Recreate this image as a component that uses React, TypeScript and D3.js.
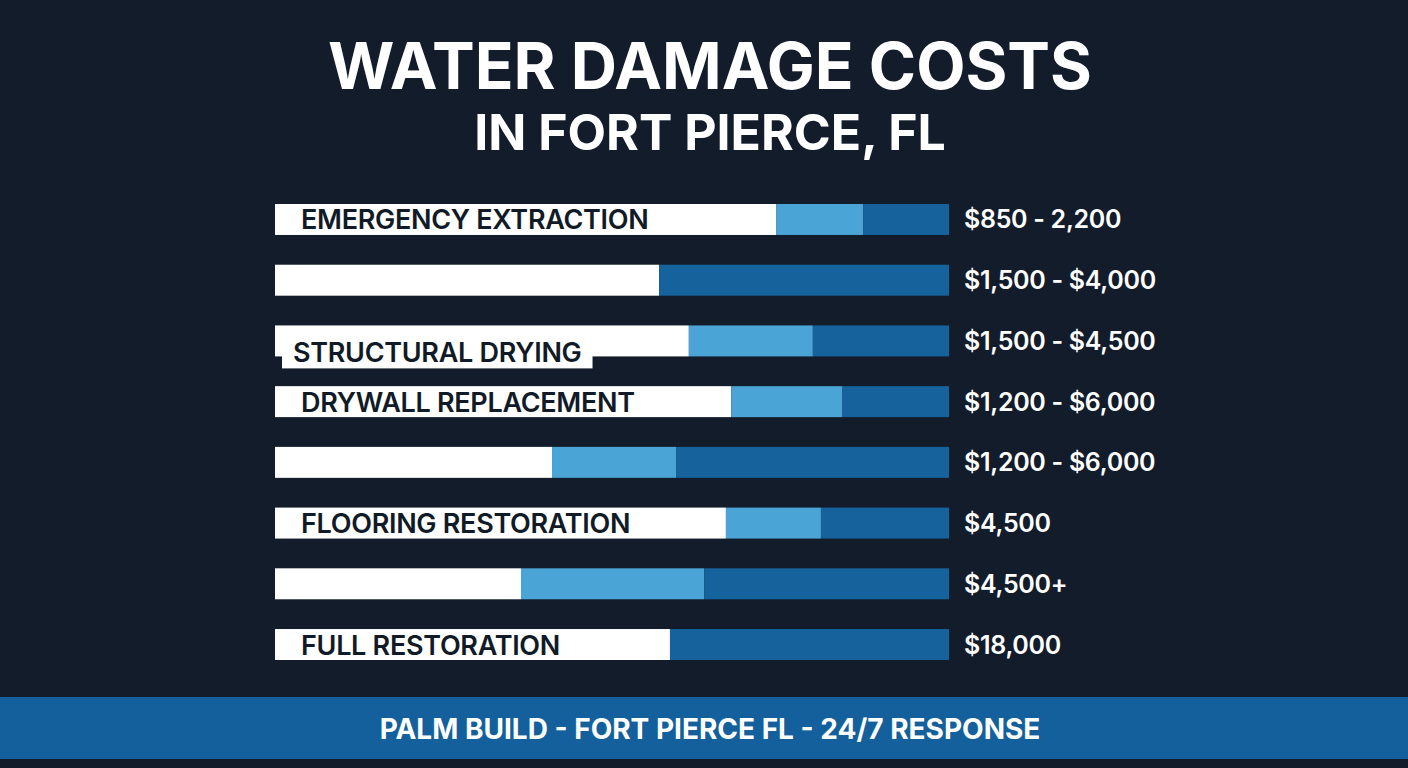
import React, { useEffect, useRef } from 'react';
import * as d3 from 'd3';

// share of each bar held by the white / light blue / dark blue segment (%)
const baseShare = [74.4, 57.0, 61.4, 67.7, 41.1, 66.9, 36.5, 58.6];
const midShare = [12.9, 0, 18.4, 16.5, 18.4, 14.1, 27.2, 0];
const topShare = [12.7, 43.0, 20.2, 15.8, 40.5, 19.0, 36.3, 41.4];

const barLabels = [
  'EMERGENCY EXTRACTION',
  '',
  'STRUCTURAL DRYING',
  'DRYWALL REPLACEMENT',
  '',
  'FLOORING RESTORATION',
  '',
  'FULL RESTORATION',
];

const priceLabels = [
  '$850 - 2,200',
  '$1,500 - $4,000',
  '$1,500 - $4,500',
  '$1,200 - $6,000',
  '$1,200 - $6,000',
  '$4,500',
  '$4,500+',
  '$18,000',
];

const titleLines = ['WATER DAMAGE COSTS', 'IN FORT PIERCE, FL'];
const footerText = 'PALM BUILD - FORT PIERCE FL - 24/7 RESPONSE';

// label that hangs below its bar on a white tab
const droppedLabel = 'STRUCTURAL DRYING';

const W = 1408;
const H = 768;
const FONT = 'Inter, "Open Sans", sans-serif';

const CostChart = () => {
  const ref = useRef<SVGSVGElement>(null);

  useEffect(() => {
    const svg = d3.select(ref.current);
    svg.selectAll('*').remove();

    svg.append('rect').attr('width', W).attr('height', H).attr('fill', '#131c2b');

    const cx = 710;

    // title
    const title = svg.append('g').attr('fill', '#ffffff').attr('text-anchor', 'middle')
      .style('font-family', FONT).style('font-weight', 700);
    title.append('text').attr('x', cx).attr('y', 89).style('font-size', '64px')
      .text(titleLines[0]);
    title.append('text').attr('x', cx).attr('y', 150).style('font-size', '50px')
      .text(titleLines[1]);

    const rows = baseShare.map((b, i) => ({ row: i, base: b, mid: midShare[i], top: topShare[i] }));

    const x = d3.scaleLinear().domain([0, 100]).range([275, 949]);
    const y = d3.scaleBand<number>()
      .domain(rows.map(d => d.row))
      .range([204, 660])
      .paddingInner(0.49)
      .paddingOuter(0);
    const bw = y.bandwidth();

    const color = d3.scaleOrdinal<string, string>()
      .domain(['base', 'mid', 'top'])
      .range(['#ffffff', '#4aa4d6', '#15629d']);

    const stack = d3.stack<any>().keys(['base', 'mid', 'top']);
    const series = stack(rows);

    const bars = svg.append('g');
    bars.selectAll('g')
      .data(series)
      .enter().append('g')
      .attr('fill', d => color(d.key))
      .selectAll('rect')
      .data(d => d.filter(s => s[1] - s[0] > 0))
      .enter().append('rect')
      .attr('x', d => x(d[0]))
      .attr('y', d => y(d.data.row) as number)
      .attr('width', d => x(d[1]) - x(d[0]))
      .attr('height', bw);

    // category labels inside the white segment
    const labels = svg.append('g').style('font-family', FONT).style('font-weight', 600)
      .style('font-size', '27px').style('letter-spacing', '-0.3px').attr('fill', '#111a27');

    rows.forEach(d => {
      const text = barLabels[d.row];
      if (!text) return;
      const y0 = y(d.row) as number;
      if (text === droppedLabel) {
        const tab = labels.append('rect').attr('fill', '#ffffff');
        const t = labels.append('text').attr('x', x(0) + 18).attr('y', y0 + bw + 6).text(text);
        const len = (t.node() as SVGTextElement).getComputedTextLength();
        tab.attr('x', x(0) + 7).attr('y', y0 + bw - 20)
          .attr('width', len + 22).attr('height', 32);
      } else {
        labels.append('text').attr('x', x(0) + 26).attr('y', y0 + bw / 2 + 10).text(text);
      }
    });

    // price ranges to the right of each bar
    svg.append('g').style('font-family', FONT).style('font-weight', 600)
      .style('font-size', '25px').style('letter-spacing', '-0.3px').attr('fill', '#ffffff')
      .selectAll('text')
      .data(rows)
      .enter().append('text')
      .attr('x', x(100) + 15)
      .attr('y', d => (y(d.row) as number) + bw / 2 + 9)
      .text(d => priceLabels[d.row]);

    // footer band
    svg.append('rect').attr('x', 0).attr('y', 697).attr('width', W).attr('height', 62)
      .attr('fill', '#13609c');
    svg.append('text').attr('x', cx).attr('y', 739).attr('text-anchor', 'middle')
      .attr('fill', '#ffffff').style('font-family', FONT).style('font-weight', 700)
      .style('font-size', '28px').text(footerText);
  }, []);

  return (
    <svg ref={ref} width={W} height={H}
      style={{ position: 'absolute', left: 0, top: 0, display: 'block' }} />
  );
};

export default function App() {
  return <CostChart />;
}
